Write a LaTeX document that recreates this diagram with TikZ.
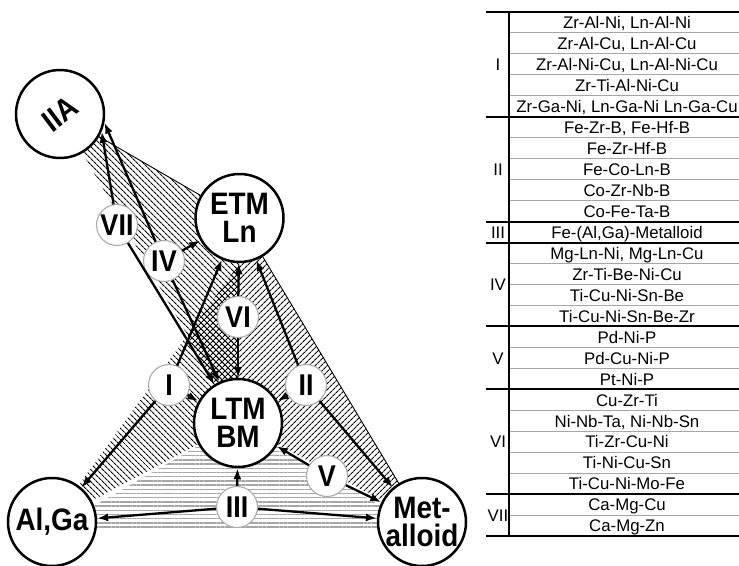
\documentclass[tikz,border=0pt]{standalone}
\usepackage{fontspec}
\setmainfont{Liberation Sans}
\newfontfamily\lblfont{Liberation Sans}[FakeStretch=0.9]
\usetikzlibrary{arrows.meta,patterns.meta,backgrounds,calc}

\begin{document}
\begin{tikzpicture}[x=1pt,y=-1pt,
  bigc/.style={circle,draw,line width=2.5pt,fill=white,minimum size=88pt,inner sep=0pt,
    align=center,font=\lblfont\bfseries\fontsize{31}{28}\selectfont},
  romanc/.style={circle,draw=gray!65,line width=1.1pt,fill=white,minimum size=41pt,inner sep=0pt,
    font=\lblfont\bfseries\fontsize{30}{30}\selectfont},
  arr/.style={line width=2.3pt,-{Latex[length=11pt,width=8pt]}},
  hatchback/.style={pattern={Lines[angle=-45,distance=4pt,line width=1.2pt]}},
  hatchfwd/.style={pattern={Lines[angle=45,distance=4pt,line width=1.2pt]}},
  hatchhoriz/.style={pattern={Lines[angle=0,distance=4.2pt,line width=1.4pt]},pattern color=gray!70},
  edge/.style={line width=0.9pt},
  cell/.style={inner sep=0pt,anchor=base,font=\fontsize{16.8}{16.8}\selectfont},
  thinrule/.style={line width=1pt,draw=gray!70},
  thickrule/.style={line width=2pt,draw=black},
]
\useasboundingbox (0,0) rectangle (739,565);

% element groups
\node[bigc,rotate=37] (iia) at (60,114) {IIA};
\node[bigc] (etm) at (239.5,218) {ETM\\Ln};
\node[bigc] (ltm) at (238,423) {LTM\\BM};
\node[bigc] (alga) at (52,522) {Al,Ga};
\node[bigc] (meta) at (422,522) {Met-\\alloid};

% alloy family markers
\node[romanc] (vii) at (117,225) {VII};
\node[romanc] (iv) at (164,261) {IV};
\node[romanc] (vi) at (238,317) {VI};
\node[romanc] (i) at (169,385) {I};
\node[romanc] (ii) at (306,385) {II};
\node[romanc] (v) at (327,476) {V};
\node[romanc] (iii) at (237,507) {III};

% shaded composition fields
\begin{scope}[on background layer]
  \fill[hatchback] (iia.center) -- (etm.center) -- (ltm.center) -- cycle;
  \fill[hatchback] (alga.center) -- (etm.south) -- (ltm.center) -- cycle;
  \fill[hatchfwd] (meta.center) -- (etm.center) -- (ltm.center) -- cycle;
  \fill[hatchhoriz] ($(alga.center)+(0,8)$) -- (ltm.center) -- ($(meta.center)+(0,8)$) -- cycle;
  \begin{scope}
    \clip (iia.center) -- (etm.center) -- (ltm.center) -- cycle;
    \fill[hatchfwd] (alga.center) -- (etm.south) -- (ltm.center) -- cycle;
  \end{scope}
  \draw[edge] (iia.center) -- (etm.center);
  \draw[edge] (etm.center) -- (meta.center);
\end{scope}

% connectors
\draw[arr] (vii) -- (iia.-60);
\draw[arr] (vii) -- (ltm);
\draw[arr] (iv) -- (iia.-48);
\draw[arr] (iv) -- (etm);
\draw[arr] (iv) -- (ltm);
\draw[arr] (vi) -- (etm);
\draw[arr] (vi) -- (ltm);
\draw[arr] (i) -- (etm);
\draw[arr] (i) -- (ltm);
\draw[arr] (i) -- (alga);
\draw[arr] (ii) -- (etm);
\draw[arr] (ii) -- (ltm);
\draw[arr] (ii) -- (meta);
\draw[arr] (v) -- (ltm);
\draw[arr] (v) -- (meta);
\draw[arr] (iii) -- (alga);
\draw[arr] (iii) -- (ltm);
\draw[arr] (iii) -- (meta);

% table of alloy systems
\foreach \k in {1,...,24}
  \draw[thinrule] (509,{12+\k*20.96}) -- (739,{12+\k*20.96});
\foreach \k in {0,5,10,11,15,18,23,25}
  \draw[thickrule] (486,{12+\k*20.96}) -- (739,{12+\k*20.96});
\draw[line width=1.5pt] (509,12) -- (509,{12+25*20.96});

\foreach \t [count=\n from 0] in {
  {Zr-Al-Ni, Ln-Al-Ni},{Zr-Al-Cu, Ln-Al-Cu},{Zr-Al-Ni-Cu, Ln-Al-Ni-Cu},{Zr-Ti-Al-Ni-Cu},
  {Zr-Ga-Ni, Ln-Ga-Ni Ln-Ga-Cu},
  {Fe-Zr-B, Fe-Hf-B},{Fe-Zr-Hf-B},{Fe-Co-Ln-B},{Co-Zr-Nb-B},{Co-Fe-Ta-B},
  {Fe-(Al,Ga)-Metalloid},
  {Mg-Ln-Ni, Mg-Ln-Cu},{Zr-Ti-Be-Ni-Cu},{Ti-Cu-Ni-Sn-Be},{Ti-Cu-Ni-Sn-Be-Zr},
  {Pd-Ni-P},{Pd-Cu-Ni-P},{Pt-Ni-P},
  {Cu-Zr-Ti},{Ni-Nb-Ta, Ni-Nb-Sn},{Ti-Zr-Cu-Ni},{Ti-Ni-Cu-Sn},{Ti-Cu-Ni-Mo-Fe},
  {Ca-Mg-Cu},{Ca-Mg-Zn}}
  \node[cell] (row\n) at (627,{12+(\n+0.5)*20.96+6.3}) {\t};

\node[cell] (gI) at (498,{12+2.5*20.96+6.3}) {I};
\node[cell] (gII) at (498,{12+7.5*20.96+6.3}) {II};
\node[cell] (gIII) at (498,{12+10.5*20.96+6.3}) {III};
\node[cell] (gIV) at (498,{12+13*20.96+6.3}) {IV};
\node[cell] (gV) at (498,{12+16.5*20.96+6.3}) {V};
\node[cell] (gVI) at (498,{12+20.5*20.96+6.3}) {VI};
\node[cell] (gVII) at (498,{12+24*20.96+6.3}) {VII};
\end{tikzpicture}
\end{document}
